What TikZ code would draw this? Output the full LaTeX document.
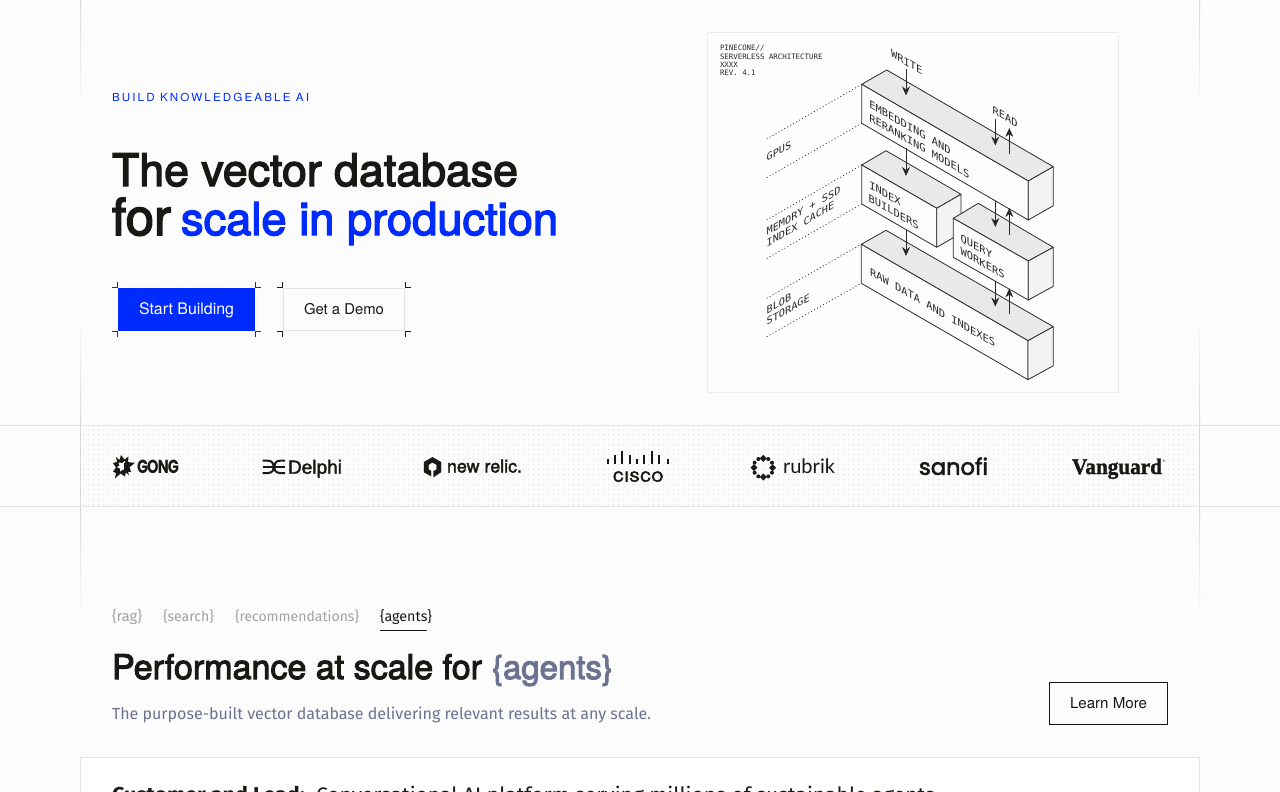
\documentclass[tikz,border=0pt]{standalone}
\usepackage{fontspec}
\usepackage{graphicx}
\usetikzlibrary{arrows.meta,calc}
\setmainfont{Fira Sans}
\newfontfamily\headf{TeX Gyre Heros}[FakeBold=3]
\newfontfamily\uif{TeX Gyre Heros}
\newfontfamily\monof{DejaVu Sans Mono}
\newfontfamily\delf{Liberation Sans}[FakeBold=2]
\newfontfamily\relf{TeX Gyre Heros}[FakeBold=2]
\newfontfamily\ciscof{TeX Gyre Heros}[FakeBold=4]
\newfontfamily\vang{Liberation Serif}[BoldFeatures={FakeBold=1.5}]
\newfontfamily\sano{Poppins}[FakeBold=2.5]
\newfontfamily\gongf{Poppins}
\newfontfamily\rubr{Lato}
\definecolor{bg}{HTML}{FCFCFC}
\definecolor{ink}{HTML}{1A1815}
\definecolor{brand}{HTML}{002BFF}
\definecolor{rule}{HTML}{E4E4E4}
\definecolor{vrule}{HTML}{D9D9D9}
\definecolor{slateb}{HTML}{6B7390}
\definecolor{tabg}{HTML}{A3A19E}
\definecolor{dline}{HTML}{2A2A2A}
\definecolor{boxtop}{HTML}{E9E9E9}
\definecolor{boxfront}{HTML}{FCFCFC}
\definecolor{boxright}{HTML}{F3F3F3}
\newcommand\fw[2]{\resizebox{#1pt}{!}{#2}}
\newcommand\fs[1]{\fontsize{#1}{#1}\selectfont}
% left, back, right, front, height
\newcommand\ibox[9]{%
  \filldraw[boxedge,fill=boxtop] (#1,#2) -- (#3,#4) -- (#5,#6) -- (#7,#8) -- cycle;
  \filldraw[boxedge,fill=boxfront] (#1,#2) -- (#7,#8) -- ++(0,#9) -- ($(#1,#2)+(0,#9)$) -- cycle;
  \filldraw[boxedge,fill=boxright] (#7,#8) -- (#5,#6) -- ++(0,#9) -- ($(#7,#8)+(0,#9)$) -- cycle;
}
\tikzset{
  x=1pt,y=-1pt,
  txt/.style={anchor=base west,inner sep=0pt,outer sep=0pt},
  btn/.style={inner sep=0pt,text height=11pt,text depth=0.4pt,font=\uif},
  boxedge/.style={draw=dline,line width=0.8pt,line join=round},
  vec/.style={draw=dline,line width=0.85pt,-{Stealth[length=9pt,width=8pt]}},
  dots/.style={draw=dline,line width=0.75pt,dash pattern=on 1pt off 2.4pt},
  sdown/.style={txt,cm={1,-0.577,0,1,(0,0)},text=dline,font=\monof\fs{10.4}},
  sup/.style={txt,cm={1,0.577,0,1,(0,0)},text=dline,font=\monof\fs{10.2}},
  meta/.style={txt,text=dline,font=\monof\fs{7.4}},
  hair/.style={line width=1pt,draw=rule},
  tick/.style={line width=1pt},
  tab/.style={txt,text=tabg},
}
\begin{document}
\begin{tikzpicture}
\useasboundingbox (0,0) rectangle (1280,792);
\fill[bg] (0,0) rectangle (1280,792);

% frame lines with fades
\foreach \lx in {80,1199}{
  \shade[top color=vrule,bottom color=bg] (\lx,0) rectangle (\lx+1,113);
  \shade[top color=bg,bottom color=vrule] (\lx,310) rectangle (\lx+1,425);
  \shade[top color=vrule,bottom color=bg] (\lx,506) rectangle (\lx+1,620);
  \fill[vrule] (\lx,425) rectangle (\lx+1,506);
}
% logo band
\fill[rule] \foreach \dy in {429,434,...,504}{ \foreach \dx in {83,88,...,1197}{ (\dx,\dy) rectangle +(1,1) } };
\draw[hair] (0,425.5) -- (1280,425.5);
\draw[hair] (0,506.5) -- (1280,506.5);

% hero text
\node[txt,text=brand,font=\uif] (eyebrow) at (112,101) {\resizebox{197pt}{8.3pt}{\fs{11.5}\addfontfeatures{LetterSpace=18}BUILD KNOWLEDGEABLE AI}};
\node[txt,text=ink,font=\headf] (h1a) at (112,186) {\fw{406}{\fs{44}The vector database}};
\node[txt,text=ink,font=\headf] (h1b) at (112,235) {\fw{59}{\fs{44}for}};
\node[txt,text=brand,font=\headf] (h1c) at (181,235) {\fw{377}{\fs{44}scale in production}};

% buttons
\node[btn,fill=brand,minimum width=137pt,minimum height=43pt,text=white] (start) at (186.5,309.5) {\fw{95}{\fs{15}Start Building}};
\node[btn,fill=bg,draw=rule,line width=1pt,minimum width=121pt,minimum height=42pt,text=ink] (demo) at (344,309.5) {\fw{80}{\fs{15}Get a Demo}};
\foreach \tcol/\lx/\rx in {brand/117.5/255.5,ink/282.5/405}{
  \draw[tick,\tcol] (\lx-5.5,287.5) -- (\lx,287.5) -- (\lx,282);
  \draw[tick,\tcol] (\rx+5.5,287.5) -- (\rx,287.5) -- (\rx,282);
  \draw[tick,\tcol] (\lx-5.5,331.5) -- (\lx,331.5) -- (\lx,337);
  \draw[tick,\tcol] (\rx+5.5,331.5) -- (\rx,331.5) -- (\rx,337);
}

% architecture panel
\filldraw[fill=bg!50!white,draw=rule!70!white,line width=1pt] (707.5,32.5) rectangle (1118.7,392);
\node[meta] (m1) at (720,51) {PINECONE//};
\node[meta] (m2) at (720,59.3) {SERVERLESS ARCHITECTURE};
\node[meta] (m3) at (720,67.6) {XXXX};
\node[meta] (m4) at (720,76) {REV. 4.1};

% dotted guides
\coordinate (g1a) at (766.7,139); \coordinate (g1b) at (861.7,84.3);
\coordinate (g2a) at (766.7,177.7); \coordinate (g2b) at (861.7,123.3);
\coordinate (g3a) at (766.7,220); \coordinate (g3b) at (861.7,165);
\coordinate (g4a) at (766.7,258.5); \coordinate (g4b) at (861.7,204);
\coordinate (g5a) at (766.7,298.3); \coordinate (g5b) at (861.3,244.3);
\coordinate (g6a) at (766.7,336.7); \coordinate (g6b) at (861.3,283.3);
\foreach \g in {1,...,6}{ \draw[dots] (g\g a) -- (g\g b); }

% boxes
\ibox{861.3}{244.3}{886}{230.3}{1053.3}{326.7}{1028}{340.7}{39}
\ibox{861.7}{165}{886}{150.7}{961}{194.3}{936.7}{208.3}{39}
\ibox{953.3}{218.3}{978.3}{203.3}{1053.3}{247.3}{1028.3}{261}{39}
\ibox{861.7}{84.3}{886.7}{70}{1053.3}{166.7}{1028.3}{181}{39}

% box and axis labels
\node[sdown] (write) at (891,57) {WRITE};
\node[sdown] (read) at (992.7,113.3) {READ};
\node[sdown] (emb) at (869.3,107.7) {EMBEDDING AND};
\node[sdown] (rer) at (869.3,121) {RERANKING MODELS};
\node[sdown] (idx) at (869.3,188.3) {INDEX};
\node[sdown] (bld) at (868.5,201) {BUILDERS};
\node[sdown] (qry) at (960.7,241) {QUERY};
\node[sdown] (wrk) at (960.7,254.3) {WORKERS};
\node[sdown] (raw) at (870,275.3) {RAW DATA AND INDEXES};
\node[sup] (gpus) at (766.7,161.7) {GPUS};
\node[sup] (mem) at (766.7,235.7) {MEMORY + SSD};
\node[sup] (cache) at (766.7,247.3) {INDEX CACHE};
\node[sup] (blob) at (766.7,314.3) {BLOB};
\node[sup] (stor) at (766.7,325.7) {STORAGE};

% flow arrows
\coordinate (a1) at (906,69); \coordinate (a1e) at (906,95.5);
\coordinate (a2) at (906,148.3); \coordinate (a2e) at (906,176);
\coordinate (a3) at (906,230); \coordinate (a3e) at (906,256);
\coordinate (r1) at (995.3,119.3); \coordinate (r1e) at (995.3,145.5);
\coordinate (u1) at (1009.3,154.3); \coordinate (u1e) at (1009.3,128);
\coordinate (r2) at (995.3,200.7); \coordinate (r2e) at (995.3,227);
\coordinate (u2) at (1009.3,235); \coordinate (u2e) at (1009.3,208);
\coordinate (r3) at (995.3,280.7); \coordinate (r3e) at (995.3,306.5);
\coordinate (u3) at (1009.3,314.3); \coordinate (u3e) at (1009.3,288.5);
\foreach \s/\e in {a1/a1e,a2/a2e,a3/a3e,r1/r1e,u1/u1e,r2/r2e,u2/u2e,r3/r3e,u3/u3e}{ \draw[vec] (\s) -- (\e); }

% logos: Gong
\fill[ink] (116,457) -- (119.5,460) -- (121,455) -- (124.5,459.5) -- (128.5,456.5) -- (128,462) -- (134,463.5) -- (129.5,467) -- (131,472) -- (126,471.5) -- (125,476.5) -- (120.5,473.5) -- (115,478.5) -- (116,473) -- (113,471.5) -- (116,467.5) -- (113,463) -- (117,462) -- cycle;
\fill[bg] (118.5,462.5) -- (122,463) -- (125,461) -- (125,464.5) -- (129,465) -- (126,468) -- (127,470) -- (123,469.5) -- (120,471.5) -- (120,468.5) -- (117,467) -- (119.5,465.5) -- cycle;
\fill[ink] (124,463) -- (135,462.5) -- (127,469) -- (129,475) -- (124,471) -- cycle;
\node[txt,text=ink,font=\gongf] (gong) at (137,473) {\resizebox{42pt}{13.4pt}{\bfseries\fs{18}\addfontfeatures{LetterSpace=-6}GONG}};
% Delphi
\draw[ink,line width=2pt] (262.5,460.7) -- (268,460.7) .. controls (272,460.7) and (274,464) .. (274,467) .. controls (274,470) and (272,473) .. (268,473) -- (262.5,473);
\draw[ink,line width=2pt] (285,460.7) -- (280,460.7) .. controls (276,460.7) and (274,464) .. (274,467) .. controls (274,470) and (276,473) .. (280,473) -- (285,473);
\draw[ink,line width=2pt] (262.5,467) -- (285,467);
\node[txt,text=ink,font=\delf] (delphi) at (288,473.7) {\fw{54}{\fs{19}Delphi}};
% New Relic
\filldraw[ink,even odd rule] (432.5,457.3) -- (441,462.2) -- (441,472) -- (433.5,477) -- (433.5,471.5) -- (436.5,469.6) -- (436.5,464.6) -- (432.5,462.2) -- (428.5,464.6) -- (428.5,469.6) -- (431,471) -- (431,476) -- (424,472) -- (424,462.2) -- cycle;
\node[txt,text=ink,font=\relf] (newrelic) at (447,472.5) {\fw{75}{\fs{19}new relic.}};
% Cisco
\foreach \bx/\by in {608.3/458.5,615/455,622.3/450.5,630/455,636.7/458.5,644/455,651.7/450.5,659.3/455,667.7/458.5}{
  \draw[ink,line width=1.7pt] (\bx,\by) -- (\bx,464);
}
\node[txt,text=ink,font=\ciscof] (cisco) at (613,481.5) {\resizebox{50pt}{10pt}{\fs{13}\addfontfeatures{LetterSpace=6}CISCO}};
% Rubrik
\foreach \ra in {0,90,180,270}{
  \fill[ink] ([shift={(\ra:9.3)}]763.3,467.7) ++(-3.5,0) -- ++(3.5,-3.5) -- ++(3.5,3.5) -- ++(-3.5,3.5) -- cycle;
}
\foreach \ra in {30,60,120,150,210,240,300,330}{
  \fill[ink] ([shift={(\ra:10)}]763.3,467.7) circle (2);
}
\node[txt,text=ink,font=\rubr] (rubrik) at (783,473.3) {\fw{52}{\fs{20}rubrik}};
% Sanofi
\node[txt,text=ink,font=\sano] (sanofi) at (919,474.8) {\fw{69}{\fs{20}sanofi}};
% Vanguard
\node[txt,text=ink,font=\vang\bfseries] (vanguard) at (1072,474) {\resizebox{90pt}{15.5pt}{\fs{21}Vanguard}};
\node[txt,text=ink,font=\vang\fs{4}] (reg) at (1162.5,462) {®};

% tabs
\node[tab] (t1) at (112,621) {\fw{30}{\fs{13.6}\{rag\}}};
\node[tab] (t2) at (163,621) {\fw{51}{\fs{13.6}\{search\}}};
\node[tab] (t3) at (235,621) {\fw{124}{\fs{13.6}\{recommendations\}}};
\node[tab,text=ink] (t4) at (380,621) {\fw{52}{\fs{13.6}\{agents\}}};
\draw[ink,line width=1pt] (380,630.5) -- (427,630.5);

% section
\node[txt,text=ink,font=\headf] (h2) at (112,679) {\fw{370}{\fs{34}Performance at scale for}};
\node[txt,text=slateb,font=\headf] (h2b) at (492,679) {\fw{121}{\fs{34}\{agents\}}};
\node[txt,text=slateb] (sub) at (112,719) {\fw{539}{\fs{16}The purpose-built vector database delivering relevant results at any scale.}};
\node[btn,draw=ink,line width=1pt,minimum width=118pt,minimum height=42pt,text=ink] (learn) at (1108.5,703.5) {\fw{77}{\fs{15}Learn More}};

% card
\filldraw[fill=white,draw=rule,line width=1pt] (80.5,757.5) -- (1199.5,757.5) -- (1199.5,800) -- (80.5,800) -- cycle;
\begin{scope}
\clip (0,0) rectangle (1280,792);
\node[txt,text=ink] (cardh) at (112,802) {\fw{193}{\fs{20}\textbf{Customer and Lead:}}};
\node[txt,text=ink] (cardt) at (316,802) {\fw{619}{\fs{20}Conversational AI platform serving millions of sustainable agents}};
\end{scope}
\end{tikzpicture}
\end{document}
